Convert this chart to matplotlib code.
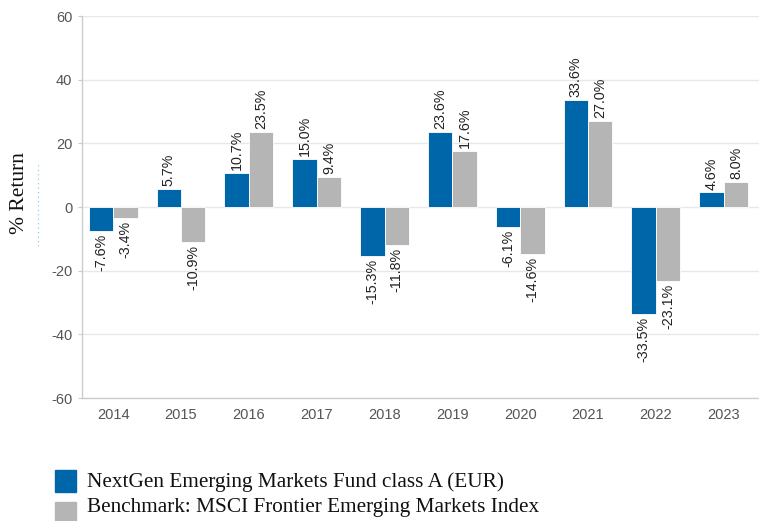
import numpy as np
import matplotlib

matplotlib.use("Agg")
import matplotlib.pyplot as plt
from matplotlib.lines import Line2D
from matplotlib.patches import Rectangle

years = ["2014", "2015", "2016", "2017", "2018", "2019", "2020", "2021", "2022", "2023"]
fund = [-7.6, 5.7, 10.7, 15.0, -15.3, 23.6, -6.1, 33.6, -33.5, 4.6]
bench = [-3.4, -10.9, 23.5, 9.4, -11.8, 17.6, -14.6, 27.0, -23.1, 8.0]
fund_name = "NextGen Emerging Markets Fund class A (EUR)"
bench_name = "Benchmark: MSCI Frontier Emerging Markets Index"

BLUE = "#0066aa"
GREY = "#b5b5b5"

plt.rcParams["axes.unicode_minus"] = False

fig = plt.figure(figsize=(7.59, 5.21), dpi=100)
ax = fig.add_axes([0.108, 0.236, 0.892, 0.733])

x = np.arange(len(years))
w = 0.36
b1 = ax.bar(x - w / 2, fund, w, color=BLUE, edgecolor="white", linewidth=0.6, zorder=3)
b2 = ax.bar(x + w / 2, bench, w, color=GREY, edgecolor="white", linewidth=0.6, zorder=3)

for bars, vals in ((b1, fund), (b2, bench)):
    for rect, v in zip(bars, vals):
        cx = rect.get_x() + rect.get_width() / 2
        off = 0.9 if v >= 0 else -0.9
        ax.text(cx, v + off, f"{v:.1f}%", rotation=90, ha="center",
                va="bottom" if v >= 0 else "top", fontsize=10.3,
                color="#222222", family="Liberation Sans")

ax.set_ylim(-60, 60)
ax.set_xlim(-0.46, 9.52)
ax.set_yticks(range(-60, 61, 20))
ax.set_xticks(x)
ax.set_xticklabels(years)
ax.grid(axis="y", color="#e8e8e8", lw=1.0, zorder=0)
for side in ("top", "right"):
    ax.spines[side].set_visible(False)
for side in ("left", "bottom"):
    ax.spines[side].set_color("#cccccc")
    ax.spines[side].set_linewidth(1.0)
ax.tick_params(axis="y", length=3, color="#cccccc", labelsize=10.5,
               labelcolor="#555555", pad=4)
ax.tick_params(axis="x", length=0, labelsize=10.5, labelcolor="#555555", pad=7)
for lab in ax.get_xticklabels() + ax.get_yticklabels():
    lab.set_family("Liberation Sans")

fig.text(0.026, 0.63, "% Return", rotation=90, ha="center", va="center",
         fontsize=15.5, family="Liberation Serif", color="#111111")
fig.add_artist(Line2D([0.05, 0.05], [0.527, 0.687], color="#7fc4ee", lw=0.8,
                      ls=(0, (1, 3)), transform=fig.transFigure))

# legend
for yy, ty, col, name in ((0.056, 0.075, BLUE, fund_name),
                          (-0.006, 0.025, GREY, bench_name)):
    fig.add_artist(Rectangle((0.073, yy), 0.027, 0.042, color=col,
                             transform=fig.transFigure))
    fig.text(0.115, ty, name, ha="left", va="center", fontsize=15.3,
             family="Liberation Serif", color="#111111")

fig.savefig("out.png", dpi=100)
